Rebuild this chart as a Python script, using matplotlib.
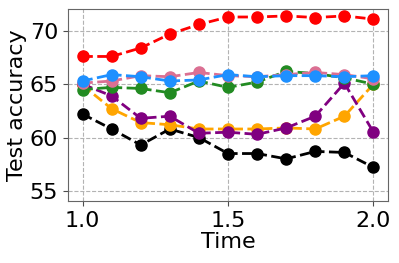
import numpy as np
import matplotlib.pyplot as plt

time = [1.0, 1.1, 1.2, 1.3, 1.4, 1.5, 1.6, 1.7, 1.8, 1.9, 2.0]

black = [62.2, 60.8, 59.3, 60.8, 60.0, 58.5, 58.5, 58.0, 58.7, 58.6, 57.2]
orange = [64.9, 62.7, 61.4, 61.2, 60.8, 60.8, 60.8, 60.9, 60.8, 62.0, 65.0]
purple = [65.0, 63.9, 61.8, 62.0, 60.4, 60.5, 60.3, 60.9, 62.0, 65.1, 60.5]
green = [64.5, 64.7, 64.6, 64.2, 65.3, 64.7, 65.2, 66.2, 66.0, 65.6, 65.0]
pink = [65.1, 65.3, 65.8, 65.7, 66.1, 65.8, 65.7, 65.9, 66.1, 65.9, 65.5]
blue = [65.3, 65.9, 65.7, 65.3, 65.4, 65.9, 65.7, 65.8, 65.8, 65.7, 65.8]
red = [67.6, 67.6, 68.4, 69.7, 70.6, 71.3, 71.3, 71.4, 71.25, 71.4, 71.1]

series = [(black, 'black'), (orange, 'orange'), (purple, 'purple'),
          (green, 'forestgreen'), (pink, 'palevioletred'), (blue, 'dodgerblue'),
          (red, 'red')]

fig = plt.figure(figsize=(3.99, 2.63), dpi=100)
ax = fig.add_axes([68/399, 1 - 201/263, 320/399, 192/263])

for vals, c in series:
    ax.plot(time, vals, '--', color=c, marker='o', markersize=8, linewidth=2)

ax.set_ylim(54.05, 72.05)
ax.set_xticks([1.0, 1.5, 2.0])
ax.set_yticks([55, 60, 65, 70])
ax.grid(True, linestyle='--', color='0.7', linewidth=0.8)
ax.tick_params(labelsize=16, color='0.3')
for s in ax.spines.values():
    s.set_color('0.4')
ax.set_xlabel('Time', fontsize=16, labelpad=1)
ax.set_ylabel('Test accuracy', fontsize=16, labelpad=2)

fig.savefig('out.png', dpi=100)
